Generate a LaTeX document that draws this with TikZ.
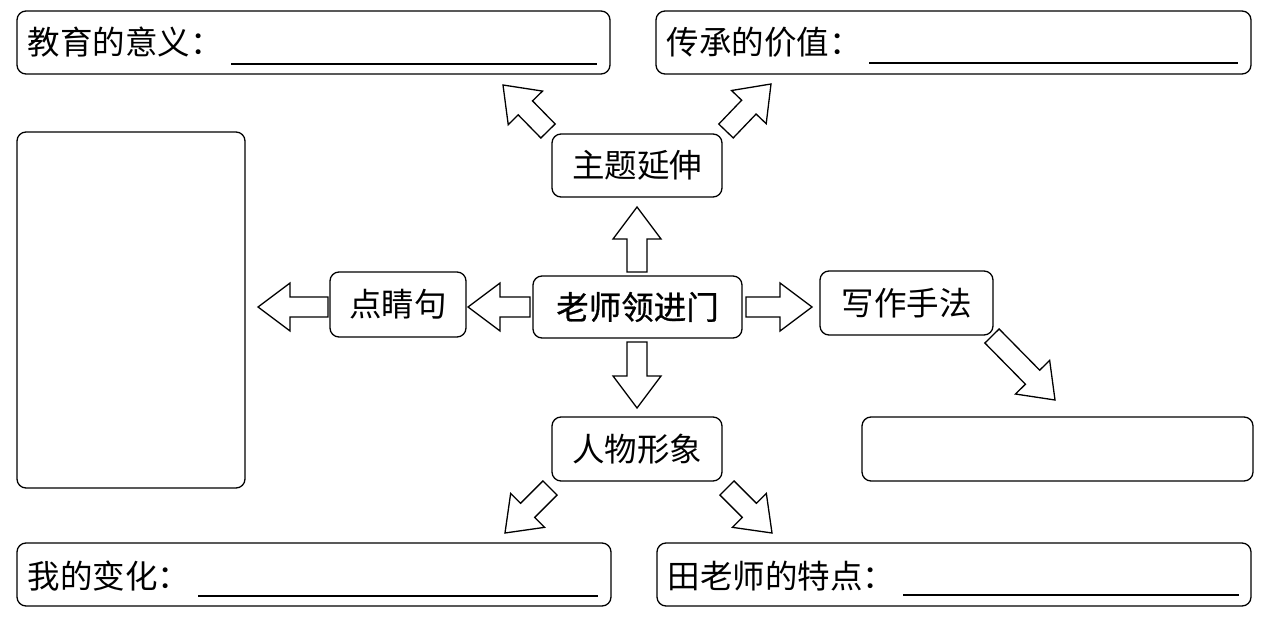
\documentclass[tikz,border=0pt]{standalone}
\usepackage{fontspec}
\setmainfont{Noto Sans CJK SC}
\newfontfamily\cjkmid{Noto Sans CJK SC}[FakeBold=0.8]
\usetikzlibrary{calc}

\tikzset{
  box/.style={draw, line width=1.3pt, rounded corners=9pt, inner sep=0pt},
  word/.style={font=\fontsize{32.5}{38}\selectfont},
  blank/.style={line width=1.2pt},
  fat/.style={draw, line width=1.3pt, fill=white, line join=miter}
}

% hollow block arrow from #1 (tail) to #2 (tip)
\newcommand{\fatarrow}[2]{%
  \coordinate (fa-h) at ($(#2)!32pt!(#1)$);
  \draw[fat] ($(#1)!10pt!90:(#2)$) -- ($(fa-h)!10pt!-90:(#1)$)
    -- ($(fa-h)!24pt!-90:(#1)$) -- (#2)
    -- ($(fa-h)!24pt!90:(#1)$) -- ($(fa-h)!10pt!90:(#1)$)
    -- ($(#1)!10pt!-90:(#2)$) -- cycle;
}

\begin{document}
\begin{tikzpicture}[x=1pt,y=-1pt]
  \useasboundingbox (0,0) rectangle (1277,620);

  %%%%%%%%%%%%%The centre and the four branches%%%%%%%%%%%%%%%%%%%%%%
  \node[box, word, minimum width=209pt, minimum height=62pt] (laoshi) at (637.5,307) {\cjkmid 老师领进门};
  \node[box, word, minimum width=170pt, minimum height=63pt] (zhuti) at (637,165.5) {主题延伸};
  \node[box, word, minimum width=136pt, minimum height=65pt] (dianjing) at (398,304.5) {点睛句};
  \node[box, word, minimum width=173pt, minimum height=64pt] (xiezuo) at (906.5,303) {写作手法};
  \node[box, word, minimum width=170pt, minimum height=64pt] (renwu) at (637,449) {人物形象};

  %%%%%%%%%%%%%The answer boxes%%%%%%%%%%%%%%%%%%%%%%
  \node[box, minimum width=593pt, minimum height=63pt] (yiyi) at (313.5,42.5) {};
  \node[box, minimum width=595pt, minimum height=63pt] (jiazhi) at (953.5,42.5) {};
  \node[box, minimum width=228pt, minimum height=356pt] (juzi) at (131,310) {};
  \node[box, minimum width=391pt, minimum height=64pt] (shoufa) at (1057.5,449) {};
  \node[box, minimum width=594pt, minimum height=63pt] (bianhua) at (314,574.5) {};
  \node[box, minimum width=594pt, minimum height=63pt] (tedian) at (954,574.5) {};

  \node[word, anchor=west, inner sep=0pt] (yiyi-t) at ([xshift=11pt]yiyi.west) {教育的意义：};
  \node[word, anchor=west, inner sep=0pt] (jiazhi-t) at ([xshift=11pt]jiazhi.west) {传承的价值：};
  \node[word, anchor=west, inner sep=0pt] (bianhua-t) at ([xshift=11pt,yshift=-2pt]bianhua.west) {我的变化：};
  \node[word, anchor=west, inner sep=0pt] (tedian-t) at ([xshift=11pt,yshift=-2pt]tedian.west) {田老师的特点：};

  \draw[blank] (231,64) -- (597,64);
  \draw[blank] (869,63) -- (1238,63);
  \draw[blank] (198,596) -- (598,596);
  \draw[blank] (903,595) -- (1239,595);

  %%%%%%%%%%%%%The block arrows%%%%%%%%%%%%%%%%%%%%%%
  \coordinate (up-s) at (637,272);      \coordinate (up-e) at (637,207);
  \coordinate (dn-s) at (637,342);      \coordinate (dn-e) at (637,408);
  \coordinate (lt-s) at (530,307);      \coordinate (lt-e) at (468,307);
  \coordinate (lt2-s) at (328,307);     \coordinate (lt2-e) at (258,307);
  \coordinate (rt-s) at (746,307);      \coordinate (rt-e) at (812,307);
  \coordinate (ul-s) at (548,131);      \coordinate (ul-e) at (503,85);
  \coordinate (ur-s) at (726,131);      \coordinate (ur-e) at (771,84);
  \coordinate (dl-s) at (550,488);      \coordinate (dl-e) at (505,533);
  \coordinate (dr-s) at (727,488);      \coordinate (dr-e) at (772,533);
  \coordinate (xz-s) at (992,336);      \coordinate (xz-e) at (1055,400);

  \fatarrow{up-s}{up-e}
  \fatarrow{dn-s}{dn-e}
  \fatarrow{lt-s}{lt-e}
  \fatarrow{lt2-s}{lt2-e}
  \fatarrow{rt-s}{rt-e}
  \fatarrow{ul-s}{ul-e}
  \fatarrow{ur-s}{ur-e}
  \fatarrow{dl-s}{dl-e}
  \fatarrow{dr-s}{dr-e}
  \fatarrow{xz-s}{xz-e}
\end{tikzpicture}
\end{document}
